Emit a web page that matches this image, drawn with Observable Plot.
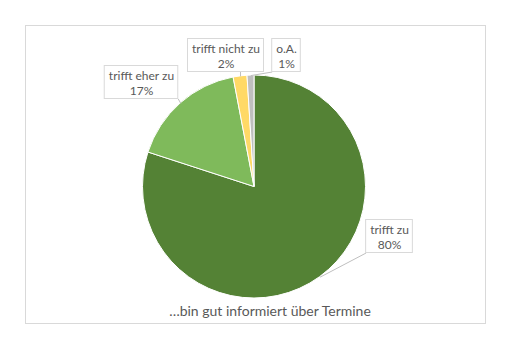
<!DOCTYPE html>
<html>
<head>
<meta charset="utf-8">
<script src="https://cdn.jsdelivr.net/npm/d3@7"></script>
<script src="https://cdn.jsdelivr.net/npm/@observablehq/plot@0.6"></script>
<style>
  html, body { margin: 0; padding: 0; background: #fff; }
</style>
</head>
<body>
<div id="chart"></div>
<script>
// ---- data ----
const categories = ["trifft zu", "trifft eher zu", "trifft nicht zu", "o.A."];
const values = [80, 17, 2, 1];
const valueLabels = ["80%", "17%", "2%", "1%"];
const colors = ["#548235", "#7fba5b", "#ffd966", "#bfbfbf"];
const title = "…bin gut informiert über Termine";

// ---- layout ----
const W = 520, H = 352;
const center = {x: 254, y: 186.5};
const radius = 111.5;
const labelCenters = [[389, 236], [141, 82], [225.5, 55], [286, 55]];
const font = "Lato, 'Open Sans', sans-serif";
const labelSize = 12, lineH = 15;
const textColor = "#595959";

// measure text widths
const cv = document.createElement("canvas").getContext("2d");
cv.font = `${labelSize}px Lato`;
const measure = s => cv.measureText(s).width;

const pie = d3.pie().sort(null).value(d => d.value)(
  categories.map((c, i) => ({category: c, value: values[i], label: valueLabels[i], color: colors[i]}))
);

const rows = pie.map((p, i) => {
  const mid = (p.startAngle + p.endAngle) / 2;
  const ax = center.x + radius * Math.sin(mid);
  const ay = center.y - radius * Math.cos(mid);
  const [lx, ly] = labelCenters[i];
  const bw = Math.max(measure(p.data.category), measure(p.data.label)) + 8;
  const bh = 2 * lineH + 3;
  const x1 = lx - bw / 2, x2 = lx + bw / 2, y1 = ly - bh / 2, y2 = ly + bh / 2;
  const sx = Math.max(x1, Math.min(x2, ax)), sy = Math.max(y1, Math.min(y2, ay));
  return {...p.data, lx, ly, x1, x2, y1, y2, ax, ay, sx, sy};
});

function sliceMark(index, scales, vals, dims) {
  const arc = d3.arc().innerRadius(0).outerRadius(radius);
  const g = d3.create("svg:g").attr("transform", `translate(${scales.x(center.x)},${scales.y(center.y)})`);
  g.selectAll("path").data(pie).join("path")
    .attr("d", arc)
    .attr("fill", d => d.data.color)
    .attr("stroke", "#fff")
    .attr("stroke-width", 1);
  return g.node();
}

const chart = Plot.plot({
  width: W, height: H,
  marginLeft: 25, marginRight: 35, marginTop: 25, marginBottom: 29,
  x: {type: "identity", axis: null}, y: {type: "identity", axis: null},
  style: {background: "#fff", fontFamily: font},
  marks: [
    Plot.frame({stroke: "#d9d9d9", fill: "#fff"}),
    sliceMark,
    Plot.link(rows, {x1: "sx", y1: "sy", x2: "ax", y2: "ay", stroke: "#bfbfbf", strokeWidth: 1}),
    Plot.rect(rows, {x1: "x1", x2: "x2", y1: "y1", y2: "y2", fill: "#fff", stroke: "#d9d9d9", strokeWidth: 1}),
    Plot.text(rows, {x: "lx", y: "ly", text: d => d.category + "\n" + d.label, fontSize: labelSize, lineHeight: lineH / labelSize, fill: textColor, fontFamily: font}),
    Plot.text([title], {x: () => 269.5, y: () => 311, text: d => d, fontSize: 14, fill: textColor, fontFamily: font})
  ]
});
document.getElementById("chart").appendChild(chart);
</script>
</body>
</html>
